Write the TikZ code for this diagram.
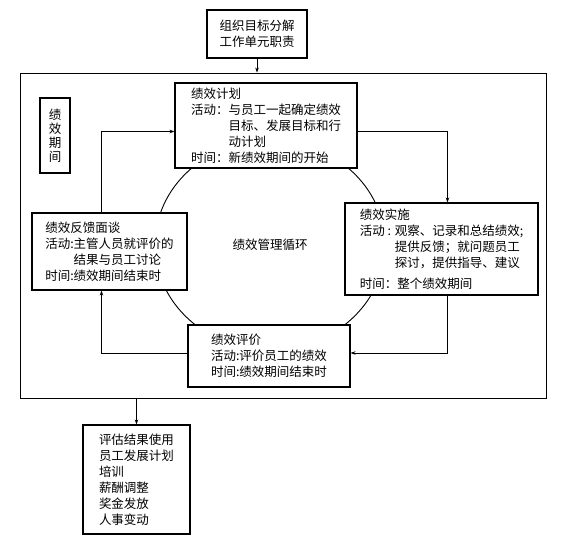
\documentclass[tikz,border=0pt]{standalone}
\usepackage{fontspec}
\setmainfont{Noto Sans CJK SC}
\usetikzlibrary{arrows.meta,shapes.geometric}

\begin{document}
\begin{tikzpicture}[
  x=1pt, y=-1pt,
  font=\fontsize{12.5}{16}\selectfont,
  box/.style={draw, line width=1.1pt, fill=white, align=left, inner sep=0pt},
  frame/.style={draw, line width=0.9pt, inner sep=0pt},
  arrow/.style={-{Stealth[length=5pt, width=3.5pt]}, line width=0.6pt}
]
\useasboundingbox (0,0) rectangle (566,546);

\node[frame, minimum width=526, minimum height=325] (frame) at (283,235.5) {};
\node[ellipse, draw, line width=0.9pt, minimum width=230, minimum height=210, inner sep=0pt] (cycle) at (270,245) {绩效管理循环};

\node[box, align=center, minimum width=100, minimum height=48] (goal) at (257,34)
  {组织目标分解\\工作单元职责};
\node[box, align=center, font=\fontsize{12.5}{14}\selectfont, minimum width=30, minimum height=75] (period) at (55,135.5)
  {绩\\效\\期\\间};
\node[box, minimum width=182, minimum height=85] (plan) at (266,125.5)
  {绩效计划\\活动：与员工一起确定绩效\\\phantom{活动：}目标、发展目标和行\\\phantom{活动：}动计划\\时间：新绩效期间的开始};
\node[box, minimum width=193, minimum height=92] (impl) at (441.5,249)
  {绩效实施\\活动 : 观察、记录和总结绩效;\\\phantom{活动 : }提供反馈；就问题员工\\\phantom{活动 : }探讨，提供指导、建议\\[5pt]时间：整个绩效期间};
\node[box, minimum width=162, minimum height=62] (eval) at (269,356)
  {绩效评价\\活动:评价员工的绩效\\时间:绩效期间结束时};
\node[box, minimum width=155, minimum height=77] (fb) at (109.5,251.5)
  {绩效反馈面谈\\活动:主管人员就评价的\\\phantom{活动:}结果与员工讨论\\时间:绩效期间结束时};
\node[box, minimum width=107, minimum height=109] (result) at (136.5,479.5)
  {评估结果使用\\员工发展计划\\培训\\薪酬调整\\奖金发放\\人事变动};

\draw[arrow] (goal.south) -- (goal.south |- frame.north);
\draw[arrow] ([xshift=-8pt]fb.north) |- ([yshift=-6pt]plan.west);
\draw[arrow] ([yshift=-6pt]plan.east) -| ([xshift=6pt]impl.north);
\draw[arrow] ([xshift=6pt]impl.south) |- ([yshift=3pt]eval.east);
\draw[arrow] ([yshift=3pt]eval.west) -| ([xshift=-8pt]fb.south);
\draw[arrow] (result.north |- frame.south) -- (result.north);

\end{tikzpicture}
\end{document}
